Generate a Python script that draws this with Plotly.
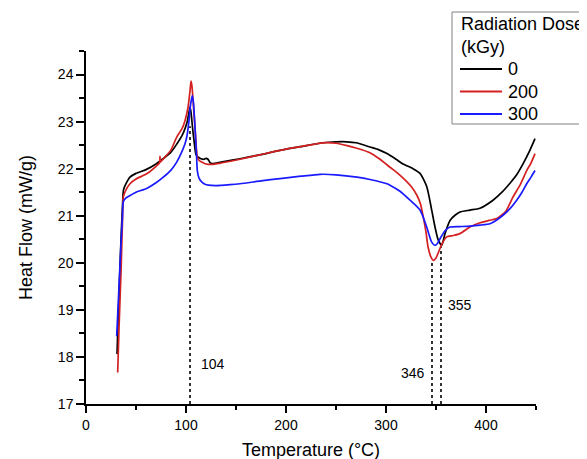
import plotly.graph_objects as go

# ---- data ----
t0 = [31, 33, 35, 36.5, 37.5, 40, 44, 50, 60, 70, 77, 85, 91, 96, 99, 101, 103, 104, 105, 106.5, 108, 110, 112, 115, 118, 120, 122, 124, 126, 135, 154, 175, 194, 215, 237, 250, 261, 270, 284, 293, 301, 310, 317, 327, 334, 340.7, 345.7, 349, 352.3, 355.7, 359, 364, 369, 374, 384, 394, 407, 416, 424, 431, 437, 443, 449]
v0 = [18.06, 19.3, 20.5, 21.2, 21.55, 21.68, 21.82, 21.9, 21.98, 22.1, 22.21, 22.35, 22.53, 22.7, 22.85, 22.98, 23.2, 23.31, 23.2, 22.88, 22.6, 22.3, 22.25, 22.21, 22.2, 22.22, 22.2, 22.13, 22.11, 22.14, 22.21, 22.3, 22.39, 22.47, 22.55, 22.57, 22.57, 22.55, 22.46, 22.4, 22.32, 22.2, 22.1, 22.0, 21.9, 21.62, 21.12, 20.76, 20.48, 20.37, 20.62, 20.9, 21.01, 21.08, 21.12, 21.16, 21.33, 21.5, 21.69, 21.88, 22.1, 22.35, 22.64]

t200 = [31.7, 33, 35, 36.5, 37.3, 40, 44, 50, 60.7, 70, 73.6, 74, 74.4, 77, 85, 90.7, 96, 99, 102, 104, 105, 106, 107.5, 109, 111.3, 113, 115.7, 120, 125.7, 135, 154, 175, 194, 215, 237, 250, 261, 270, 284, 294, 304, 313, 321, 326, 331, 334.5, 337.3, 340, 342, 345, 347.3, 350, 352, 356, 360.7, 367, 374, 384, 394, 403, 410.7, 420, 427, 434, 440.7, 445, 449]
v200 = [17.67, 18.6, 19.8, 20.9, 21.4, 21.55, 21.68, 21.78, 21.89, 22.05, 22.13, 22.26, 22.14, 22.2, 22.4, 22.67, 22.85, 23.02, 23.3, 23.65, 23.86, 23.75, 23.3, 22.88, 22.25, 22.18, 22.14, 22.1, 22.09, 22.12, 22.2, 22.3, 22.39, 22.47, 22.55, 22.54, 22.49, 22.44, 22.34, 22.2, 22.03, 21.88, 21.72, 21.6, 21.43, 21.25, 20.97, 20.65, 20.34, 20.12, 20.05, 20.1, 20.2, 20.4, 20.55, 20.58, 20.62, 20.76, 20.85, 20.9, 20.94, 21.1, 21.4, 21.65, 21.96, 22.12, 22.32]

t300 = [30.7, 33, 35, 36.5, 37.3, 40, 44, 50, 60.7, 70, 77.3, 85, 90.7, 95, 99, 101, 103, 104.5, 106.3, 107.5, 109, 110.5, 111.3, 113, 115.7, 119, 122.3, 130, 144, 154, 175, 194, 215, 234, 250, 271, 284, 301, 304, 314, 324, 334, 340.7, 343, 345.7, 349, 351, 354, 359, 364, 374, 384, 394, 404, 410, 417, 424, 430.7, 436, 440.7, 445, 449]
v300 = [18.44, 19.5, 20.4, 21.0, 21.3, 21.38, 21.43, 21.5, 21.58, 21.7, 21.82, 21.97, 22.14, 22.32, 22.53, 22.7, 23.02, 23.35, 23.55, 23.4, 22.88, 22.3, 21.96, 21.8, 21.72, 21.67, 21.65, 21.64, 21.66, 21.68, 21.74, 21.79, 21.84, 21.88, 21.87, 21.82, 21.77, 21.68, 21.65, 21.52, 21.33, 21.12, 20.76, 20.6, 20.44, 20.37, 20.4, 20.51, 20.68, 20.76, 20.77, 20.78, 20.8, 20.83, 20.9, 21.01, 21.15, 21.33, 21.5, 21.68, 21.82, 21.96]

series_names = ["0", "200", "300"]
series_colors = ["#000000", "#d42020", "#1a1aff"]
legend_title = "Radiation Dose<br>(kGy)"

peak_temps = [104, 346, 355]
peak_tops = [22.9, 20.05, 20.34]
peak_labels = ["104", "346", "355"]
label_x = [126.5, 326.5, 374]
label_y = [17.85, 17.66, 19.1]

x_ticks = [0, 100, 200, 300, 400]
y_ticks = [17, 18, 19, 20, 21, 22, 23, 24]

FONT = "Liberation Sans, Arial, sans-serif"

# plot area geometry (px) used to place the hand-drawn legend in paper units
PL, PT, PW, PH = 78, 43, 450, 353
def px_x(p):
    return (p - 8 - PL) / PW
def px_y(p):
    return (PT + PH - (p - 8)) / PH

fig = go.Figure()
for t, v, name, col in zip([t0, t200, t300], [v0, v200, v300], series_names, series_colors):
    fig.add_trace(go.Scatter(x=t, y=v, mode="lines", name=name, showlegend=False,
                             line=dict(color=col, width=1.7, shape="spline", smoothing=0.6)))

for px, top in zip(peak_temps, peak_tops):
    fig.add_shape(type="line", xref="x", yref="y", x0=px, x1=px, y0=17, y1=top,
                  line=dict(color="black", width=1.6, dash="dot"), layer="below")

for lx, ly, txt in zip(label_x, label_y, peak_labels):
    fig.add_annotation(x=lx, y=ly, xref="x", yref="y", text=txt, showarrow=False,
                       font=dict(size=14, color="black", family=FONT))

# legend frame + title (frame runs off the right edge as in the reference)
fig.add_shape(type="rect", xref="paper", yref="paper", x0=px_x(452), x1=px_x(640),
              y0=px_y(124), y1=px_y(12),
              line=dict(color="#808080", width=1), fillcolor="white", layer="above")
fig.add_annotation(x=px_x(459), y=px_y(12), xref="paper", yref="paper", text=legend_title,
                   showarrow=False, xanchor="left", yanchor="top", align="left",
                   font=dict(size=18, color="black", family=FONT))
for i, (name, col) in enumerate(zip(series_names, series_colors)):
    yc = 69 + 22.5 * i
    fig.add_shape(type="line", xref="paper", yref="paper", x0=px_x(460), x1=px_x(502),
                  y0=px_y(yc), y1=px_y(yc), line=dict(color=col, width=2), layer="above")
    fig.add_annotation(x=px_x(506), y=px_y(yc), xref="paper", yref="paper", text=name,
                       showarrow=False, xanchor="left", yanchor="middle",
                       font=dict(size=18, color="black", family=FONT))

# page has an 8px body margin, so the figure is shifted by 8px; margins compensate
fig.update_layout(
    width=587, height=459,
    margin=dict(l=PL, r=587 - PL - PW, t=PT, b=459 - PT - PH, autoexpand=False),
    paper_bgcolor="white", plot_bgcolor="white",
    font=dict(family=FONT, color="black"),
    showlegend=False,
    xaxis=dict(
        range=[0, 450], tickvals=x_ticks, showgrid=False, zeroline=False,
        showline=True, linecolor="black", linewidth=1.5,
        ticks="outside", ticklen=7, tickwidth=1.5, tickcolor="black",
        minor=dict(dtick=50, tick0=0, ticks="outside", ticklen=4, tickwidth=1.5, tickcolor="black"),
        tickfont=dict(size=14), title=dict(text="Temperature (°C)", font=dict(size=18), standoff=12),
    ),
    yaxis=dict(
        range=[17, 24.5], tickvals=y_ticks, showgrid=False, zeroline=False,
        showline=True, linecolor="black", linewidth=1.5,
        ticks="outside", ticklen=8, tickwidth=1.5, tickcolor="black",
        minor=dict(dtick=0.5, tick0=17, ticks="outside", ticklen=5, tickwidth=1.5, tickcolor="black"),
        tickfont=dict(size=14), title=dict(text="Heat Flow (mW/g)", font=dict(size=18), standoff=21),
    ),
)

fig.write_html("out.html")
